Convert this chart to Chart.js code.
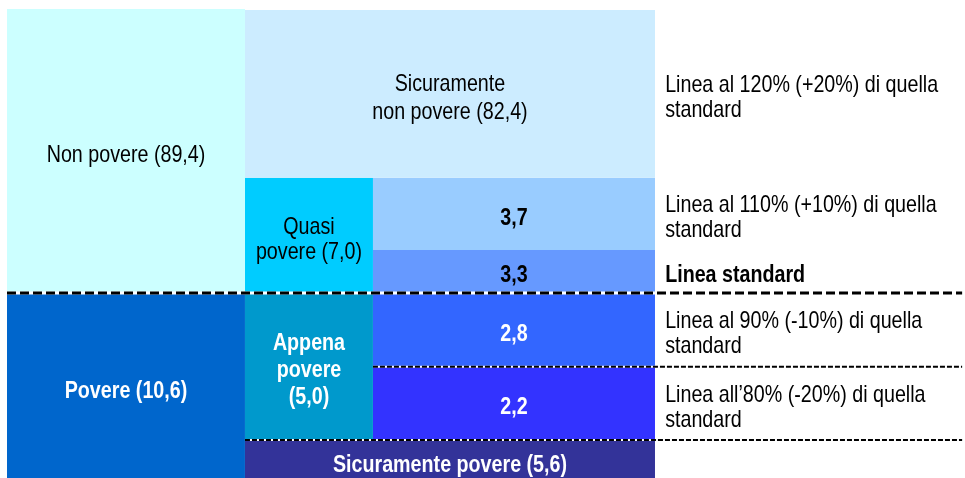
<!DOCTYPE html>
<html lang="it">
<head>
<meta charset="utf-8">
<title>Famiglie povere e non povere</title>
<script src="https://cdn.jsdelivr.net/npm/chart.js@4.4.1/dist/chart.umd.min.js"></script>
<style>
  html, body { margin: 0; padding: 0; background: #ffffff; }
  #contenitore { width: 965px; height: 478px; }
</style>
</head>
<body>
<div id="contenitore"><canvas id="graficoPoverta" width="965" height="478"></canvas></div>
<script>
// dati (valori percentuali)
const gruppi = ["Non povere", "Povere"];
const valoriGruppi = [89.4, 10.6];
const sottogruppi = ["Sicuramente\nnon povere", "Quasi\npovere", "Appena\npovere\n", "Sicuramente povere"];
const valoriSottogruppi = [82.4, 7.0, 5.0, 5.6];
const valoriFasce = [3.7, 3.3, 2.8, 2.2];
const linee = [
  "Linea al 120% (+20%) di quella\nstandard",
  "Linea al 110% (+10%) di quella\nstandard",
  "Linea standard",
  "Linea al 90% (-10%) di quella\nstandard",
  "Linea all\u201980% (-20%) di quella\nstandard"
];

// schema del diagramma, su scale 0-100
const X_SX = 0, X_COL2 = 24.84, X_COL3 = 38.2, X_DX = 67.64, X_TESTO = 68.7, X_FINE = 99.7;
const Y_FONDO = -1, Y_80 = 8.1, Y_90 = 23.7, Y_STD = 39.45, Y_110 = 48.6, Y_120 = 64, Y_TOP = 99.8, Y_MAX = 100;

function fmt(v) {
  return v.toFixed(1).replace(".", ",");
}

function etichetta(nome, valore) {
  return nome.endsWith("\n") ? nome + "(" + fmt(valore) + ")" : nome + " (" + fmt(valore) + ")";
}

const BIANCO = "#ffffff";
const NERO = "#000000";

const riquadri = [
  { x0: X_SX, x1: X_COL2, y0: Y_STD, y1: Y_MAX, colore: "#CCFFFF", testo: etichetta(gruppi[0], valoriGruppi[0]), grassetto: false, coloreTesto: NERO },
  { x0: X_SX, x1: X_COL2, y0: Y_FONDO, y1: Y_STD, colore: "#0066CC", testo: etichetta(gruppi[1], valoriGruppi[1]), grassetto: true, coloreTesto: BIANCO },
  { x0: X_COL2, x1: X_DX, y0: Y_120, y1: Y_TOP, colore: "#CCECFF", testo: etichetta(sottogruppi[0], valoriSottogruppi[0]), grassetto: false, coloreTesto: NERO, riga: 28 },
  { x0: X_COL2, x1: X_COL3, y0: Y_STD, y1: Y_120, colore: "#00CCFF", testo: etichetta(sottogruppi[1], valoriSottogruppi[1]), grassetto: false, coloreTesto: NERO, riga: 25 },
  { x0: X_COL3, x1: X_DX, y0: Y_110, y1: Y_120, colore: "#99CCFF", testo: fmt(valoriFasce[0]), grassetto: true, coloreTesto: NERO },
  { x0: X_COL3, x1: X_DX, y0: Y_STD, y1: Y_110, colore: "#6699FF", testo: fmt(valoriFasce[1]), grassetto: true, coloreTesto: NERO },
  { x0: X_COL2, x1: X_COL3, y0: Y_80, y1: Y_STD, colore: "#0099CC", testo: etichetta(sottogruppi[2], valoriSottogruppi[2]), grassetto: true, coloreTesto: BIANCO, riga: 27 },
  { x0: X_COL3, x1: X_DX, y0: Y_90, y1: Y_STD, colore: "#3366FF", testo: fmt(valoriFasce[2]), grassetto: true, coloreTesto: BIANCO },
  { x0: X_COL3, x1: X_DX, y0: Y_80, y1: Y_90, colore: "#3333FF", testo: fmt(valoriFasce[3]), grassetto: true, coloreTesto: BIANCO },
  { x0: X_COL2, x1: X_DX, y0: Y_FONDO, y1: Y_80, colore: "#333399", testo: etichetta(sottogruppi[3], valoriSottogruppi[3]), grassetto: true, coloreTesto: BIANCO }
];

// testi a destra, centrati sulle fasce
const fasceDestra = [[Y_120, Y_TOP], [Y_110, Y_120], [Y_STD, Y_110], [Y_90, Y_STD], [Y_80, Y_90]];

const testi = [];
riquadri.forEach((r) => {
  testi.push({
    x: (r.x0 + r.x1) / 2, y: (r.y0 + r.y1) / 2, testo: r.testo,
    grassetto: r.grassetto, colore: r.coloreTesto, allinea: "center", riga: r.riga || 26
  });
});
linee.forEach((l, i) => {
  testi.push({
    x: X_TESTO, y: (fasceDestra[i][0] + fasceDestra[i][1]) / 2, testo: l,
    grassetto: i === 2, colore: NERO, allinea: "left", riga: 25
  });
});

const datasets = [];

riquadri.forEach((r) => {
  datasets.push({
    data: [{ x: r.x0, y: r.y1 }, { x: r.x1, y: r.y1 }],
    fill: { value: r.y0 },
    backgroundColor: r.colore,
    borderColor: "rgba(0,0,0,0)",
    borderWidth: 0,
    pointRadius: 0,
    order: 3
  });
});

function lineaTratteggiata(x0, x1, yv, spessore, tratto) {
  datasets.push({
    data: [{ x: x0, y: yv }, { x: x1, y: yv }],
    borderColor: BIANCO,
    borderWidth: spessore,
    pointRadius: 0,
    fill: false,
    order: 2
  });
  datasets.push({
    data: [{ x: x0, y: yv }, { x: x1, y: yv }],
    borderColor: NERO,
    borderWidth: spessore,
    borderDash: tratto,
    borderCapStyle: "butt",
    pointRadius: 0,
    fill: false,
    order: 1
  });
}

lineaTratteggiata(X_SX, X_FINE, Y_STD, 3, [9, 4]);
lineaTratteggiata(X_COL3, X_FINE, Y_90, 2, [5, 2]);
lineaTratteggiata(X_COL2, X_FINE, Y_80, 2, [5, 2]);

const etichettePlugin = {
  id: "etichette",
  afterDatasetsDraw(chart) {
    const ctx = chart.ctx;
    const x = chart.scales.x;
    const y = chart.scales.y;
    testi.forEach((t) => {
      const righe = t.testo.split("\n");
      const px = x.getPixelForValue(t.x);
      const py = y.getPixelForValue(t.y) + 4;
      ctx.save();
      ctx.font = (t.grassetto ? "bold " : "") + "24px 'Liberation Sans', Arial, sans-serif";
      ctx.fillStyle = t.colore;
      ctx.textAlign = t.allinea;
      ctx.textBaseline = "middle";
      righe.forEach((riga, i) => {
        const ry = py + (i - (righe.length - 1) / 2) * t.riga;
        ctx.save();
        ctx.translate(px, ry);
        ctx.scale(0.82, 1);
        ctx.fillText(riga, 0, 0);
        ctx.restore();
      });
      ctx.restore();
    });
  }
};

const chartDOM = document.getElementById("graficoPoverta");

new Chart(chartDOM, {
  type: "line",
  data: { datasets: datasets },
  options: {
    responsive: false,
    animation: false,
    events: [],
    layout: { padding: { left: 7, top: 9, right: 0, bottom: 0 } },
    scales: {
      x: { type: "linear", min: 0, max: 100, display: false },
      y: { type: "linear", min: 0, max: 100, display: false }
    },
    plugins: {
      legend: { display: false },
      tooltip: { enabled: false }
    }
  },
  plugins: [etichettePlugin]
});
</script>
</body>
</html>
